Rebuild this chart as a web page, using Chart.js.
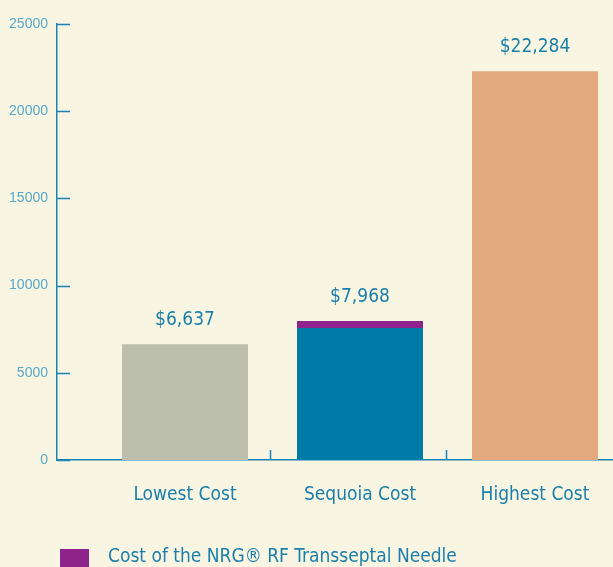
<!DOCTYPE html>
<html>
<head>
<meta charset="utf-8">
<script src="https://cdn.jsdelivr.net/npm/chart.js@4/dist/chart.umd.min.js"></script>
<style>
  html,body{margin:0;padding:0;background:#f8f5e3;overflow:hidden;}
  #wrap{width:613px;height:567px;position:relative;}
</style>
</head>
<body>
<div id="wrap"><canvas id="costChart" width="613" height="567"></canvas></div>
<script>
// datos
const categories=['Lowest Cost','Sequoia Cost','Highest Cost'];
const baseCost=[6637,7573,22284];
const needleCost=[0,395,0];
const yTicks=[0,5000,10000,15000,20000,25000];
const barColors=['#bcbfae','#007ba7','#e2a97f'];
const needleLabel='Cost of the NRG® RF Transseptal Needle';

const narrow='"Liberation Sans Narrow","DejaVu Sans Condensed",sans-serif';
const txt='#1b7fa9', axisC='#1b82b4';

/* fondo, marcas internas de ejes, etiquetas de valor y leyenda */
const extras={
  id:'extras',
  beforeDraw(c){
    const ctx=c.ctx;ctx.save();ctx.fillStyle='#f8f5e3';ctx.fillRect(0,0,c.width,c.height);ctx.restore();
  },
  afterDatasetsDraw(c){
    const ctx=c.ctx, x=c.scales.x, y=c.scales.y, a=c.chartArea;
    ctx.save();
    ctx.strokeStyle=axisC;ctx.lineWidth=1.5;
    yTicks.forEach(v=>{
      const py=Math.round(y.getPixelForValue(v))+0.5;
      ctx.beginPath();ctx.moveTo(a.left,py);ctx.lineTo(a.left+13,py);ctx.stroke();
    });
    [1.5,2.5].forEach(v=>{
      const px=Math.round(x.getPixelForValue(v))-1.5;
      ctx.beginPath();ctx.moveTo(px,a.bottom);ctx.lineTo(px,a.bottom-10);ctx.stroke();
    });
    ctx.fillStyle=txt;ctx.font='19px '+narrow;ctx.textAlign='center';ctx.textBaseline='alphabetic';
    categories.forEach((cat,i)=>{
      const tot=baseCost[i]+needleCost[i];
      ctx.fillText('$'+tot.toLocaleString('en-US'),x.getPixelForValue(i+1),y.getPixelForValue(tot)-19);
    });
    // leyenda
    ctx.fillStyle=c.data.datasets[1].backgroundColor;
    ctx.fillRect(60,549,29,18);
    ctx.fillStyle=txt;ctx.textAlign='left';ctx.font='19px '+narrow;
    ctx.fillText(c.data.datasets[1].label,108,562);
    ctx.restore();
  }
};

new Chart(document.getElementById('costChart').getContext('2d'),{
  type:'bar',
  data:{datasets:[
    {label:'Cost',data:baseCost.map((v,i)=>({x:i+1,y:v})),backgroundColor:barColors,borderWidth:0},
    {label:needleLabel,data:needleCost.map((v,i)=>({x:i+1,y:v})),backgroundColor:'#8f238c',borderWidth:0}
  ]},
  options:{
    responsive:false,animation:false,
    layout:{padding:{top:24,left:0,right:0,bottom:0}},
    plugins:{legend:{display:false},tooltip:{enabled:false}},
    scales:{
      x:{type:'linear',stacked:true,offset:false,min:0.2686,max:3.4457,
        afterBuildTicks:s=>{s.ticks=categories.map((c,i)=>({value:i+1}));},
        afterFit:s=>{s.height=107;s.paddingLeft=0;s.paddingRight=0;},
        grid:{display:false,drawTicks:false,offset:false},
        border:{display:true,color:axisC,width:1.5},
        ticks:{padding:24,color:txt,font:{family:narrow,size:19},callback:v=>categories[v-1]||''}},
      y:{stacked:true,min:0,max:25000,
        afterBuildTicks:s=>{s.ticks=yTicks.map(v=>({value:v}));},
        afterFit:s=>{s.width=57;s.paddingTop=0;s.paddingBottom=0;},
        grid:{display:false,drawTicks:false},
        border:{display:true,color:axisC,width:1.5},
        ticks:{padding:9,color:'#59a8c8',font:{family:'"Liberation Sans",sans-serif',size:14},callback:v=>String(v)}}
    }
  },
  plugins:[extras]
});
</script>
</body>
</html>
